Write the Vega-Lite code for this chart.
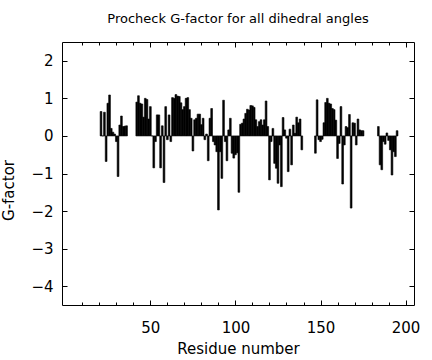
{
  "$schema": "https://vega.github.io/schema/vega-lite/v6.json",
  "width": 352,
  "height": 263,
  "autosize": {"type": "none"},
  "padding": {"left": 62, "top": 42, "right": 18, "bottom": 55},
  "background": "white",
  "title": {"text": "Procheck G-factor for all dihedral angles", "font": "DejaVu Sans", "fontSize": 13, "fontWeight": "normal", "color": "black", "anchor": "middle", "offset": 16},
  "config": {
    "view": {"stroke": "black", "strokeWidth": 1},
    "axis": {"labelFont": "DejaVu Sans", "labelFontSize": 15, "labelColor": "black", "titleFont": "DejaVu Sans", "titleFontSize": 15, "titleFontWeight": "normal", "titleColor": "black", "tickColor": "black", "tickWidth": 1, "domain": false, "grid": false, "labelFlush": false}
  },
  "data": {"values": [
    {"r": 21, "g": 0.65}, {"r": 22, "g": 0}, {"r": 23, "g": 0.63}, {"r": 24, "g": -0.68}, {"r": 25, "g": 0.87}, {"r": 26, "g": 1.09}, {"r": 27, "g": 0.2}, {"r": 28, "g": 0.1}, {"r": 29, "g": 0.05}, {"r": 30, "g": -0.15}, {"r": 31, "g": -1.08}, {"r": 32, "g": 0.29}, {"r": 33, "g": 0.53}, {"r": 34, "g": 0.25}, {"r": 35, "g": 0.26}, {"r": 36, "g": 0.27},
    {"r": 42, "g": 0.9}, {"r": 43, "g": 1.07}, {"r": 44, "g": 0.87}, {"r": 45, "g": 0.85}, {"r": 46, "g": 0.5}, {"r": 47, "g": 1.0}, {"r": 48, "g": 0.97}, {"r": 49, "g": 0.45}, {"r": 50, "g": 0.78}, {"r": 51, "g": 0}, {"r": 52, "g": -0.85}, {"r": 53, "g": -0.15}, {"r": 54, "g": 0.56}, {"r": 55, "g": 0.56}, {"r": 56, "g": -0.85}, {"r": 57, "g": 0.27}, {"r": 58, "g": -1.24}, {"r": 59, "g": 0.78}, {"r": 60, "g": -0.1},
    {"r": 61, "g": 0.56}, {"r": 62, "g": -0.15}, {"r": 63, "g": 1.02}, {"r": 64, "g": 1.0}, {"r": 65, "g": 1.1}, {"r": 66, "g": 1.06}, {"r": 67, "g": 1.05}, {"r": 68, "g": 0.88}, {"r": 69, "g": 0.7}, {"r": 70, "g": 0.78}, {"r": 71, "g": 1.0}, {"r": 72, "g": 1.02}, {"r": 73, "g": 0.7}, {"r": 74, "g": 0.47}, {"r": 75, "g": -0.4}, {"r": 76, "g": 0.43}, {"r": 77, "g": 0.47}, {"r": 78, "g": 0.58}, {"r": 79, "g": 0.58}, {"r": 80, "g": 0.3},
    {"r": 81, "g": 0.47}, {"r": 82, "g": -0.1}, {"r": 83, "g": 0.05}, {"r": 84, "g": -0.66}, {"r": 85, "g": 0.47}, {"r": 86, "g": 0.73}, {"r": 87, "g": -0.15}, {"r": 88, "g": -0.24}, {"r": 89, "g": -0.42}, {"r": 90, "g": -1.97}, {"r": 91, "g": -0.42}, {"r": 92, "g": -1.13}, {"r": 93, "g": 0.95}, {"r": 94, "g": -0.15}, {"r": 95, "g": -0.66}, {"r": 96, "g": 0.16}, {"r": 97, "g": 0.47}, {"r": 98, "g": -0.46}, {"r": 99, "g": -0.59}, {"r": 100, "g": -0.5},
    {"r": 101, "g": -0.45}, {"r": 102, "g": -1.5}, {"r": 103, "g": 0.31}, {"r": 104, "g": 0.34}, {"r": 105, "g": 0.45}, {"r": 106, "g": 0.6}, {"r": 107, "g": 0.71}, {"r": 108, "g": 0.69}, {"r": 109, "g": 0.81}, {"r": 110, "g": 0.8}, {"r": 111, "g": 0.76}, {"r": 112, "g": 0.43}, {"r": 113, "g": 0.25}, {"r": 114, "g": 0.38}, {"r": 115, "g": 0.43}, {"r": 116, "g": 0.29}, {"r": 117, "g": 0.43}, {"r": 118, "g": 0.93}, {"r": 119, "g": 0.25}, {"r": 120, "g": -1.17},
    {"r": 121, "g": -0.15}, {"r": 122, "g": 0.2}, {"r": 123, "g": -0.73}, {"r": 124, "g": -0.86}, {"r": 125, "g": -1.26}, {"r": 126, "g": -0.24}, {"r": 127, "g": -1.35}, {"r": 128, "g": 0.49}, {"r": 129, "g": 0.16}, {"r": 130, "g": -0.06}, {"r": 131, "g": -0.95}, {"r": 132, "g": 0.18}, {"r": 133, "g": -0.77}, {"r": 134, "g": 0.29}, {"r": 135, "g": 0.07}, {"r": 136, "g": 0.5}, {"r": 137, "g": 0.35}, {"r": 138, "g": 0.45}, {"r": 139, "g": -0.37},
    {"r": 147, "g": -0.46}, {"r": 148, "g": 0.96}, {"r": 149, "g": -0.1}, {"r": 150, "g": -0.15}, {"r": 151, "g": -0.09}, {"r": 152, "g": 0.35}, {"r": 153, "g": 0.89}, {"r": 154, "g": 1.0}, {"r": 155, "g": 0.87}, {"r": 156, "g": 0.85}, {"r": 157, "g": 0.73}, {"r": 158, "g": 0.7}, {"r": 159, "g": 0.42}, {"r": 160, "g": -0.6},
    {"r": 161, "g": -0.2}, {"r": 162, "g": 0.78}, {"r": 163, "g": -1.28}, {"r": 164, "g": -0.24}, {"r": 165, "g": 0.25}, {"r": 166, "g": 0.22}, {"r": 167, "g": 0.57}, {"r": 168, "g": -1.92}, {"r": 169, "g": 0.35}, {"r": 170, "g": 0.34}, {"r": 171, "g": -0.24}, {"r": 172, "g": 0.45}, {"r": 173, "g": 0.16}, {"r": 174, "g": 0.14}, {"r": 175, "g": 0.14},
    {"r": 184, "g": 0.25}, {"r": 185, "g": -0.77}, {"r": 186, "g": -0.9}, {"r": 187, "g": -0.15}, {"r": 188, "g": -0.22}, {"r": 189, "g": 0.08}, {"r": 190, "g": -0.12}, {"r": 191, "g": -0.37}, {"r": 192, "g": -1.04}, {"r": 193, "g": -0.42}, {"r": 194, "g": -0.55}, {"r": 195, "g": 0.14}
  ]},
  "layer": [
    {
      "mark": {"type": "bar", "orient": "vertical", "width": 1.75, "fill": "black", "stroke": "black", "strokeWidth": 0.6},
      "encoding": {
        "x": {"field": "r", "type": "quantitative", "scale": {"domain": [1, 202], "nice": false, "zero": false},
              "axis": {"orient": "bottom", "values": [50, 100, 150, 200], "tickSize": -5, "labelPadding": 20, "title": "Residue number", "titlePadding": 6}},
        "y": {"field": "g", "type": "quantitative", "scale": {"domain": [-4.5, 2.5], "nice": false, "zero": false},
              "axis": {"orient": "left", "values": [-4, -3, -2, -1, 0, 1, 2], "tickSize": -5, "labelPadding": 14, "title": "G-factor", "titlePadding": 14, "titleY": 148}}
      }
    },
    {
      "mark": {"type": "bar", "orient": "vertical", "width": 1, "opacity": 0},
      "encoding": {
        "x": {"field": "r", "type": "quantitative", "axis": {"orient": "top", "values": [50, 100, 150, 200], "tickSize": -5, "labels": false, "title": null}},
        "y": {"field": "g", "type": "quantitative", "axis": {"orient": "right", "values": [-4, -3, -2, -1, 0, 1, 2], "tickSize": -5, "labels": false, "title": null}}
      }
    },
    {
      "mark": {"type": "bar", "orient": "vertical", "width": 1, "opacity": 0},
      "encoding": {
        "x": {"field": "r", "type": "quantitative", "axis": {"orient": "bottom", "values": [10, 20, 30, 40, 60, 70, 80, 90, 110, 120, 130, 140, 160, 170, 180, 190], "tickSize": -3, "labels": false, "title": null}},
        "y": {"field": "g", "type": "quantitative", "axis": null}
      }
    },
    {
      "mark": {"type": "bar", "orient": "vertical", "width": 1, "opacity": 0},
      "encoding": {
        "x": {"field": "r", "type": "quantitative", "axis": {"orient": "top", "values": [10, 20, 30, 40, 60, 70, 80, 90, 110, 120, 130, 140, 160, 170, 180, 190], "tickSize": -3, "labels": false, "title": null}},
        "y": {"field": "g", "type": "quantitative", "axis": null}
      }
    }
  ],
  "resolve": {"axis": {"x": "independent", "y": "independent"}}
}
